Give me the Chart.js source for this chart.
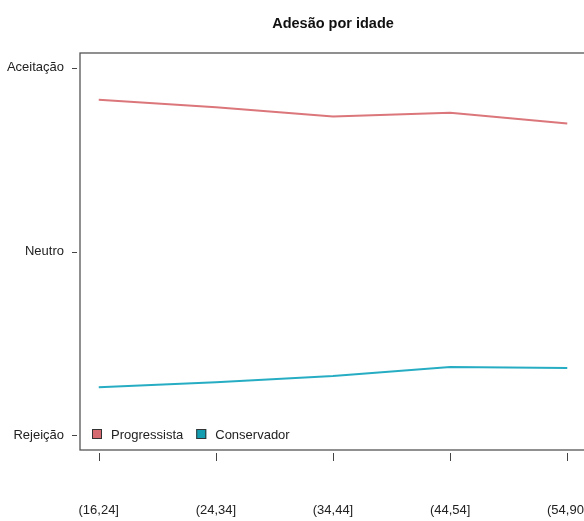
<!DOCTYPE html>
<html>
<head>
<meta charset="utf-8">
<script src="https://cdn.jsdelivr.net/npm/chart.js@4/dist/chart.umd.min.js"></script>
<style>
  html, body { margin: 0; padding: 0; background: #fff; overflow: hidden; }
  #wrap { position: relative; width: 600px; height: 521px; }
</style>
</head>
<body>
<div id="wrap"><canvas id="adesaoChart" width="600" height="521"></canvas></div>
<script>
// faixas etárias e médias de adesão (-1 rejeição, 0 neutro, 1 aceitação)
const faixas = ["(16,24]", "(24,34]", "(34,44]", "(44,54]", "(54,90]"];
const progressista = [0.826, 0.785, 0.734, 0.755, 0.696];
const conservador = [-0.739, -0.712, -0.678, -0.629, -0.634];
const yTickValues = [-1, 0, 1];
const yTickLabels = ["Rejeição", "Neutro", "Aceitação"];
const titulo = "Adesão por idade";

const FONT = "'Liberation Sans', Arial, sans-serif";

function toPoints(values) {
  return values.map((v, i) => ({ x: i, y: v }));
}

// título, caixa do gráfico, marcas dos eixos e legenda no estilo base do R
const boxPlugin = {
  id: "boxPlugin",
  afterDraw(chart) {
    const ctx = chart.ctx;
    const a = chart.chartArea;
    const xs = chart.scales.x;
    const ys = chart.scales.y;
    ctx.save();

    ctx.font = "bold 14.5px " + FONT;
    ctx.fillStyle = "#111";
    ctx.textAlign = "center";
    ctx.textBaseline = "middle";
    ctx.fillText(titulo, (a.left + a.right) / 2, 24);

    ctx.strokeStyle = "#555";
    ctx.lineWidth = 1.3;
    ctx.strokeRect(a.left, a.top, a.right - a.left, a.bottom - a.top);

    ctx.lineWidth = 1;
    ctx.strokeStyle = "#444";
    ctx.beginPath();
    faixas.forEach((f, i) => {
      const px = Math.round(xs.getPixelForValue(i)) + 0.5;
      ctx.moveTo(px, a.bottom + 3);
      ctx.lineTo(px, a.bottom + 11);
    });
    yTickValues.forEach(v => {
      const py = Math.round(ys.getPixelForValue(v)) + 0.5;
      ctx.moveTo(a.left - 8, py);
      ctx.lineTo(a.left - 3, py);
    });
    ctx.stroke();

    // legenda
    let lx = a.left + 12;
    const ly = a.bottom - 16;
    ctx.font = "13px " + FONT;
    ctx.textBaseline = "middle";
    ctx.textAlign = "left";
    chart.data.datasets.forEach(ds => {
      ctx.fillStyle = ds.legendFill;
      ctx.fillRect(lx, ly - 5, 10, 10);
      ctx.strokeStyle = "#333";
      ctx.lineWidth = 1;
      ctx.strokeRect(lx + 0.5, ly - 4.5, 9, 9);
      ctx.fillStyle = "#222";
      ctx.fillText(ds.label, lx + 19, ly + 1);
      lx += 19 + ctx.measureText(ds.label).width + 13;
    });
    ctx.restore();
  }
};

new Chart(document.getElementById("adesaoChart"), {
  type: "line",
  data: {
    datasets: [
      {
        label: "Progressista",
        data: toPoints(progressista),
        borderColor: "#db767b",
        legendFill: "#d56a70",
        borderWidth: 2,
        pointRadius: 0,
        tension: 0
      },
      {
        label: "Conservador",
        data: toPoints(conservador),
        borderColor: "#27adc3",
        legendFill: "#139db1",
        borderWidth: 2,
        pointRadius: 0,
        tension: 0
      }
    ]
  },
  options: {
    responsive: false,
    animation: false,
    layout: { padding: { top: 53, right: 14, bottom: 0, left: 0 } },
    plugins: {
      legend: { display: false },
      tooltip: { enabled: false },
      title: { display: false }
    },
    scales: {
      x: {
        type: "linear",
        min: -0.16,
        max: 4.16,
        grid: { display: false, drawTicks: false },
        border: { display: false },
        afterBuildTicks: s => { s.ticks = faixas.map((f, i) => ({ value: i })); },
        afterFit: s => { s.height = 71; s.paddingLeft = 0; s.paddingRight = 0; },
        ticks: {
          padding: 53,
          color: "#222",
          font: { family: FONT, size: 13 },
          maxRotation: 0,
          autoSkip: false,
          callback: v => faixas[v]
        }
      },
      y: {
        min: -1.08,
        max: 1.08,
        grid: { display: false, drawTicks: false },
        border: { display: false },
        afterBuildTicks: s => { s.ticks = yTickValues.map(v => ({ value: v })); },
        afterFit: s => { s.width = 80; s.paddingTop = 0; s.paddingBottom = 0; },
        ticks: {
          padding: 16,
          color: "#222",
          font: { family: FONT, size: 13 },
          callback: v => yTickLabels[yTickValues.indexOf(v)]
        }
      }
    }
  },
  plugins: [boxPlugin]
});
</script>
</body>
</html>
